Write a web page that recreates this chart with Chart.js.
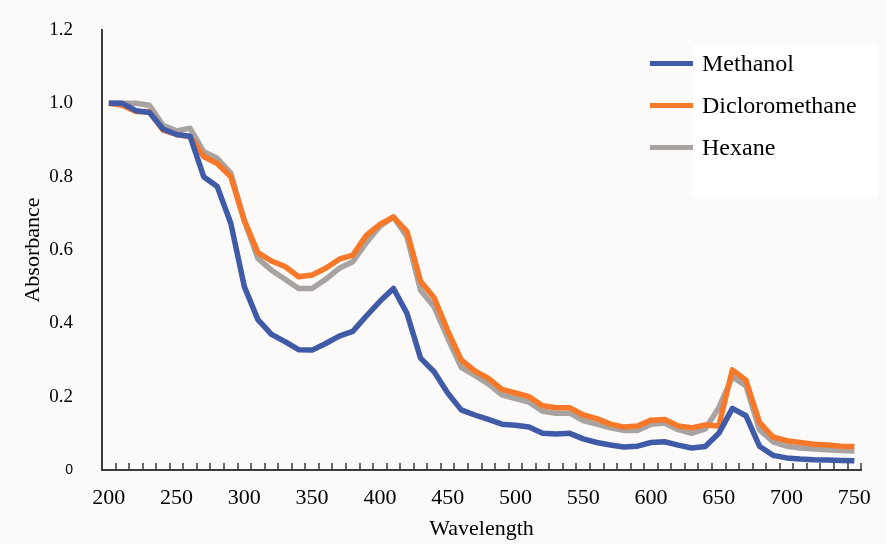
<!DOCTYPE html>
<html>
<head>
<meta charset="utf-8">
<title>Absorbance spectra</title>
<script src="https://cdn.jsdelivr.net/npm/chart.js@4.4.1/dist/chart.umd.min.js"></script>
<style>
    html, body { margin: 0; padding: 0; background: #fcfaf8; }
    #wrap { position: relative; width: 886px; height: 544px; }
    #legendPanel { position: absolute; left: 693px; top: 45px; width: 185px; height: 152px; background: #fff; }
    #legend { position: absolute; left: 650px; top: 42px; }
    .legend-row { display: flex; align-items: center; height: 42px; }
    .legend-line { display: inline-block; width: 43px; height: 5px; margin-right: 9px; }
    .legend-text { font-family: 'Liberation Serif', 'Times New Roman', serif; font-size: 24px; color: #000; }
</style>
</head>
<body>
<div id="wrap">
    <canvas id="absorbanceChart" width="886" height="544"></canvas>
    <div id="legendPanel"></div>
    <div id="legend"></div>
</div>
<script>
// Wavelength categories (nm)
const wavelengths = [200, 210, 220, 230, 240, 250, 260, 270, 280, 290,
    300, 310, 320, 330, 340, 350, 360, 370, 380, 390,
    400, 410, 420, 430, 440, 450, 460, 470, 480, 490,
    500, 510, 520, 530, 540, 550, 560, 570, 580, 590,
    600, 610, 620, 630, 640, 650, 660, 670, 680, 690,
    700, 710, 720, 730, 740, 750];

// Labelled wavelengths on the x axis
const xTickLabels = [200, 250, 300, 350, 400, 450, 500, 550, 600, 650, 700, 750];

// Absorbance per solvent
const methanol = [1.0, 1.0, 0.98, 0.975, 0.93, 0.915, 0.91, 0.80, 0.773, 0.673,
    0.50, 0.41, 0.37, 0.35, 0.328, 0.327, 0.345, 0.365, 0.378, 0.42,
    0.46, 0.495, 0.427, 0.305, 0.268, 0.21, 0.164, 0.15, 0.138, 0.125,
    0.122, 0.117, 0.10, 0.098, 0.10, 0.085, 0.075, 0.068, 0.063, 0.065,
    0.075, 0.077, 0.068, 0.06, 0.064, 0.10, 0.168, 0.148, 0.065, 0.04,
    0.033, 0.03, 0.028, 0.027, 0.026, 0.025];

const dicloromethane = [1.0, 0.995, 0.978, 0.977, 0.927, 0.915, 0.909, 0.855, 0.836, 0.80,
    0.68, 0.593, 0.57, 0.555, 0.527, 0.532, 0.55, 0.575, 0.586, 0.64,
    0.67, 0.69, 0.65, 0.515, 0.47, 0.38, 0.30, 0.27, 0.25, 0.22,
    0.21, 0.20, 0.175, 0.17, 0.17, 0.15, 0.14, 0.125, 0.117, 0.12,
    0.136, 0.138, 0.12, 0.115, 0.123, 0.12, 0.273, 0.245, 0.13, 0.09,
    0.08, 0.075, 0.07, 0.068, 0.065, 0.064];

const hexane = [1.0, 1.0, 1.0, 0.995, 0.94, 0.925, 0.932, 0.868, 0.85, 0.81,
    0.68, 0.577, 0.545, 0.52, 0.495, 0.495, 0.52, 0.55, 0.568, 0.62,
    0.665, 0.69, 0.636, 0.49, 0.445, 0.36, 0.28, 0.258, 0.235, 0.205,
    0.195, 0.185, 0.16, 0.155, 0.155, 0.135, 0.125, 0.115, 0.108, 0.108,
    0.125, 0.128, 0.11, 0.10, 0.112, 0.17, 0.254, 0.23, 0.11, 0.077,
    0.065, 0.06, 0.057, 0.055, 0.053, 0.052];

const seriesColors = ['#3f5aa6', '#f77828', '#a8a2a0'];

const serif = 'Liberation Serif, "Times New Roman", serif';

// Small tick marks pointing up from the x axis, one per category boundary
const innerTicks = {
    id: 'innerTicks',
    afterDraw(chart) {
        const x = chart.scales.x;
        const ctx = chart.ctx;
        const half = (x.getPixelForValue(1) - x.getPixelForValue(0)) / 2;
        ctx.save();
        ctx.strokeStyle = '#3a3a3a';
        ctx.lineWidth = 1.5;
        ctx.beginPath();
        for (let i = 1; i <= wavelengths.length; i++) {
            const px = Math.round(x.getPixelForValue(i - 1) + half);
            ctx.moveTo(px, x.top);
            ctx.lineTo(px, x.top - 7);
        }
        ctx.stroke();
        ctx.restore();
    }
};

const ctx = document.getElementById('absorbanceChart');
const chart = new Chart(ctx, {
    type: 'line',
    data: {
        labels: wavelengths,
        datasets: [
            { label: 'Methanol', data: methanol, borderColor: seriesColors[0] },
            { label: 'Dicloromethane', data: dicloromethane, borderColor: seriesColors[1] },
            { label: 'Hexane', data: hexane, borderColor: seriesColors[2] }
        ]
    },
    options: {
        responsive: false,
        animation: false,
        layout: { padding: { top: 30, right: 16, left: 0, bottom: 0 } },
        elements: {
            point: { radius: 0, hoverRadius: 0 },
            line: { borderWidth: 5.5, tension: 0, borderJoinStyle: 'round', fill: false }
        },
        plugins: {
            legend: { display: false },
            tooltip: { enabled: false }
        },
        scales: {
            x: {
                type: 'category',
                offset: true,
                grid: { display: false, offset: true, drawTicks: false },
                border: { display: true, color: '#3a3a3a', width: 2 },
                ticks: {
                    autoSkip: false,
                    maxRotation: 0,
                    padding: 15,
                    color: '#000',
                    font: { family: serif, size: 22 },
                    callback: function(value, index) {
                        const w = wavelengths[index];
                        return xTickLabels.includes(w) ? String(w) : '';
                    }
                },
                title: {
                    display: true,
                    text: 'Wavelength',
                    color: '#000',
                    font: { family: serif, size: 22 },
                    padding: { top: 0, bottom: 2 }
                },
                afterFit: function(scale) { scale.height = 74; }
            },
            y: {
                min: 0,
                max: 1.2,
                grid: { display: false, drawTicks: false },
                border: { display: true, color: '#3a3a3a', width: 2 },
                ticks: {
                    stepSize: 0.2,
                    padding: 29,
                    color: '#000',
                    font: function(c) {
                        if (c.tick && c.tick.value === 0) {
                            return { family: 'Liberation Sans, Arial, sans-serif', size: 14 };
                        }
                        return { family: serif, size: 19 };
                    },
                    callback: function(value) {
                        return value === 0 ? '0' : value.toFixed(1);
                    }
                },
                title: {
                    display: true,
                    text: 'Absorbance',
                    color: '#000',
                    font: { family: serif, size: 22 },
                    padding: { top: 20, bottom: 0 }
                },
                afterFit: function(scale) {
                    scale.width = 102;
                    // tick padding should not push the plot area down
                    scale.paddingTop = 0;
                    scale.paddingBottom = 0;
                }
            }
        }
    },
    plugins: [innerTicks]
});

// HTML legend built from the datasets
const legendEl = document.getElementById('legend');
chart.data.datasets.forEach(ds => {
    const row = document.createElement('div');
    row.className = 'legend-row';
    const line = document.createElement('span');
    line.className = 'legend-line';
    line.style.background = ds.borderColor;
    const text = document.createElement('span');
    text.className = 'legend-text';
    text.textContent = ds.label;
    row.appendChild(line);
    row.appendChild(text);
    legendEl.appendChild(row);
});
</script>
</body>
</html>
